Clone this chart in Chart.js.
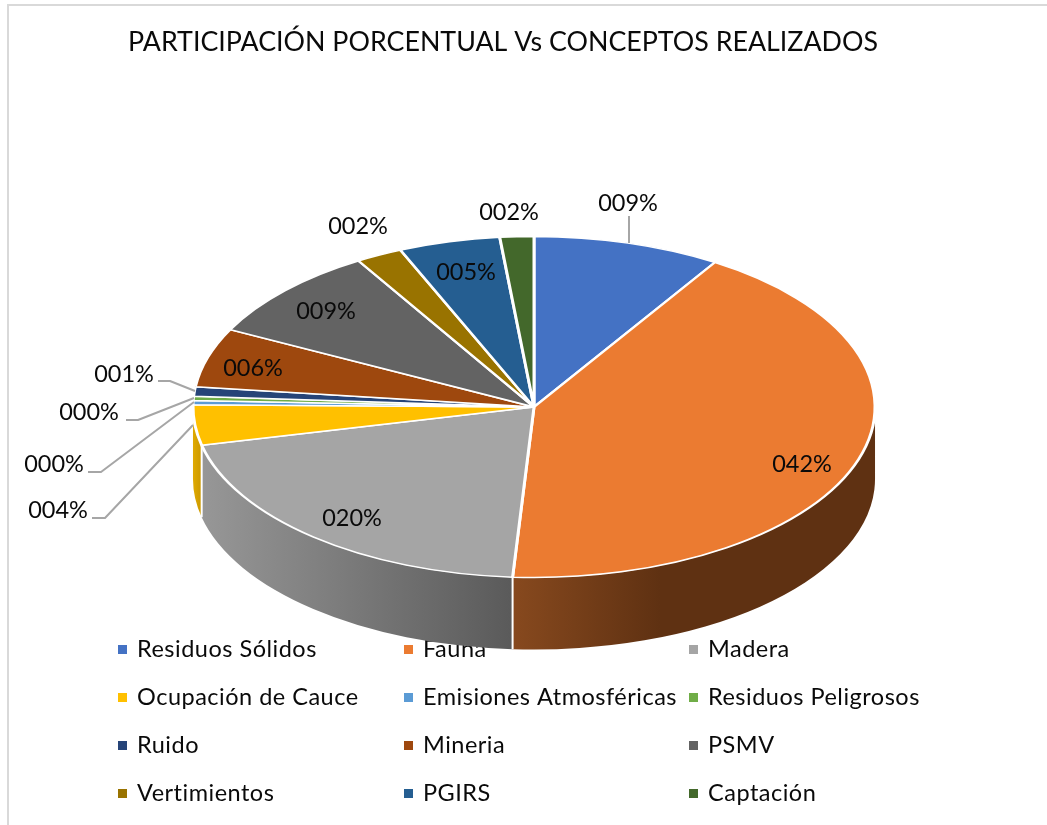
<!DOCTYPE html>
<html><head><meta charset="utf-8">
<script src="https://cdn.jsdelivr.net/npm/chart.js@4/dist/chart.umd.min.js"></script>
<style>html,body{margin:0;padding:0;background:#fff}canvas{display:block}</style>
</head><body><canvas id="c" width="1047" height="825"></canvas>
<script>
const titleText = 'PARTICIPACIÓN PORCENTUAL Vs CONCEPTOS REALIZADOS';
const categories = ['Residuos Sólidos','Fauna','Madera','Ocupación de Cauce','Emisiones Atmosféricas','Residuos Peligrosos','Ruido','Mineria','PSMV','Vertimientos','PGIRS','Captación'];
const values = [8.9,42.1,20.4,3.8,0.4,0.4,0.9,5.6,8.9,2.2,4.8,1.6];
const colors = ['#4472C4','#EB7B31','#A5A5A5','#FFC000','#5B9BD5','#70AD47','#264478','#9E480E','#636363','#997300','#255E91','#43682B'];

const FONT = 'Lato, "Open Sans", sans-serif';
const PIE = {cx:534, cy:407, squash:0.5, depth:72};
const sideGrad = {1:[513,'#87491e',660,'#5f3112'], 2:[202,'#979797',513,'#5a5a5a'], 3:[193,'#e0aa00',202,'#c99700']};
const labelPos = [[628,203],[802,464],[352,518],[58,510],[54,464],[89,412],[124,374],[253,368],[326,311],[358,226],[466,272],[509,212]];
const leaders = {0:[[629,216]],3:[[92,518],[105,518]],4:[[88,472],[101,472]],5:[[126,420],[138,420]],6:[[158,381],[170,381]]};
const leaderEnds = {3:[193,425],4:[194,402],5:[194,398],6:[195,391]};
const legendCols = [[118,137],[404,423],[689,708]];
const legendRows = [649,697,745,793];

const pie3d = {
  id:'pie3d',
  beforeDraw(chart){
    const ctx = chart.ctx;
    ctx.save();
    ctx.strokeStyle='#D9D9D9'; ctx.lineWidth=2;
    ctx.beginPath(); ctx.moveTo(8,825); ctx.lineTo(8,5); ctx.lineTo(1047,5); ctx.stroke();
    ctx.letterSpacing='0.5px';
    ctx.font='23.5px '+FONT; ctx.textBaseline='middle';
    categories.forEach((name,i)=>{
      const col=legendCols[i%3], y=legendRows[Math.floor(i/3)];
      ctx.fillStyle=colors[i]; ctx.fillRect(col[0],y-4,9,9);
      ctx.fillStyle='#0a0a0a'; ctx.fillText(name,col[1],y);
    });
    ctx.restore();
  },
  beforeDatasetsDraw(chart){
    const ctx=chart.ctx, arcs=chart.getDatasetMeta(0).data;
    const r=arcs[0].outerRadius, ry=r*PIE.squash;
    ctx.save();
    arcs.forEach((a,i)=>{
      const s=Math.max(a.startAngle,0), e=Math.min(a.endAngle,Math.PI);
      const g=sideGrad[i];
      if(e<=s || !g) return;
      const grad=ctx.createLinearGradient(g[0],0,g[2],0);
      grad.addColorStop(0,g[1]); grad.addColorStop(1,g[3]);
      ctx.beginPath();
      ctx.ellipse(PIE.cx,PIE.cy,r,ry,0,s,e);
      ctx.ellipse(PIE.cx,PIE.cy+PIE.depth,r,ry,0,e,s,true);
      ctx.closePath();
      ctx.fillStyle=grad; ctx.fill();
      ctx.strokeStyle='#fff'; ctx.lineWidth=2;
      if(s>0){
        const x=PIE.cx+r*Math.cos(s), y=PIE.cy+ry*Math.sin(s);
        ctx.beginPath(); ctx.moveTo(x,y); ctx.lineTo(x,y+PIE.depth); ctx.stroke();
      }
    });
    ctx.restore();
    const a0=arcs[0];
    ctx.save();
    ctx.translate(PIE.cx-a0.x,PIE.cy);
    ctx.scale(1,PIE.squash);
    ctx.translate(0,-a0.y);
  },
  afterDatasetsDraw(chart){
    const ctx=chart.ctx, arcs=chart.getDatasetMeta(0).data;
    ctx.restore();
    const r=arcs[0].outerRadius, ry=r*PIE.squash;
    ctx.save();
    ctx.strokeStyle='#A6A6A6'; ctx.lineWidth=2; ctx.lineJoin='round';
    Object.keys(leaders).forEach(k=>{
      const a=arcs[k], m=(a.startAngle+a.endAngle)/2;
      const rim=leaderEnds[k]||[PIE.cx+r*Math.cos(m), PIE.cy+ry*Math.sin(m)];
      const pts=leaders[k];
      ctx.beginPath(); ctx.moveTo(pts[0][0],pts[0][1]);
      pts.slice(1).forEach(p=>ctx.lineTo(p[0],p[1]));
      if(k==='0') ctx.lineTo(pts[0][0],rim[1]); else ctx.lineTo(rim[0],rim[1]);
      ctx.stroke();
    });
    ctx.font='23.5px '+FONT; ctx.textAlign='center'; ctx.textBaseline='middle'; ctx.fillStyle='#0a0a0a';
    values.forEach((v,i)=>{
      ctx.fillText(String(Math.round(v)).padStart(3,'0')+'%',labelPos[i][0],labelPos[i][1]);
    });
    ctx.restore();
  }
};

new Chart(document.getElementById('c'),{
  type:'pie',
  data:{labels:categories,datasets:[{data:values,backgroundColor:colors,borderColor:'#fff',borderWidth:3,clip:false}]},
  options:{
    responsive:false,animation:false,
    layout:{padding:{left:80,right:121,top:0,bottom:75.5}},
    plugins:{
      legend:{display:false},tooltip:{enabled:false},
      title:{display:true,text:titleText,color:'#0a0a0a',font:{family:FONT,size:26.8,weight:'normal'},padding:{top:26,bottom:6.3}}
    }
  },
  plugins:[pie3d]
});
</script></body></html>
